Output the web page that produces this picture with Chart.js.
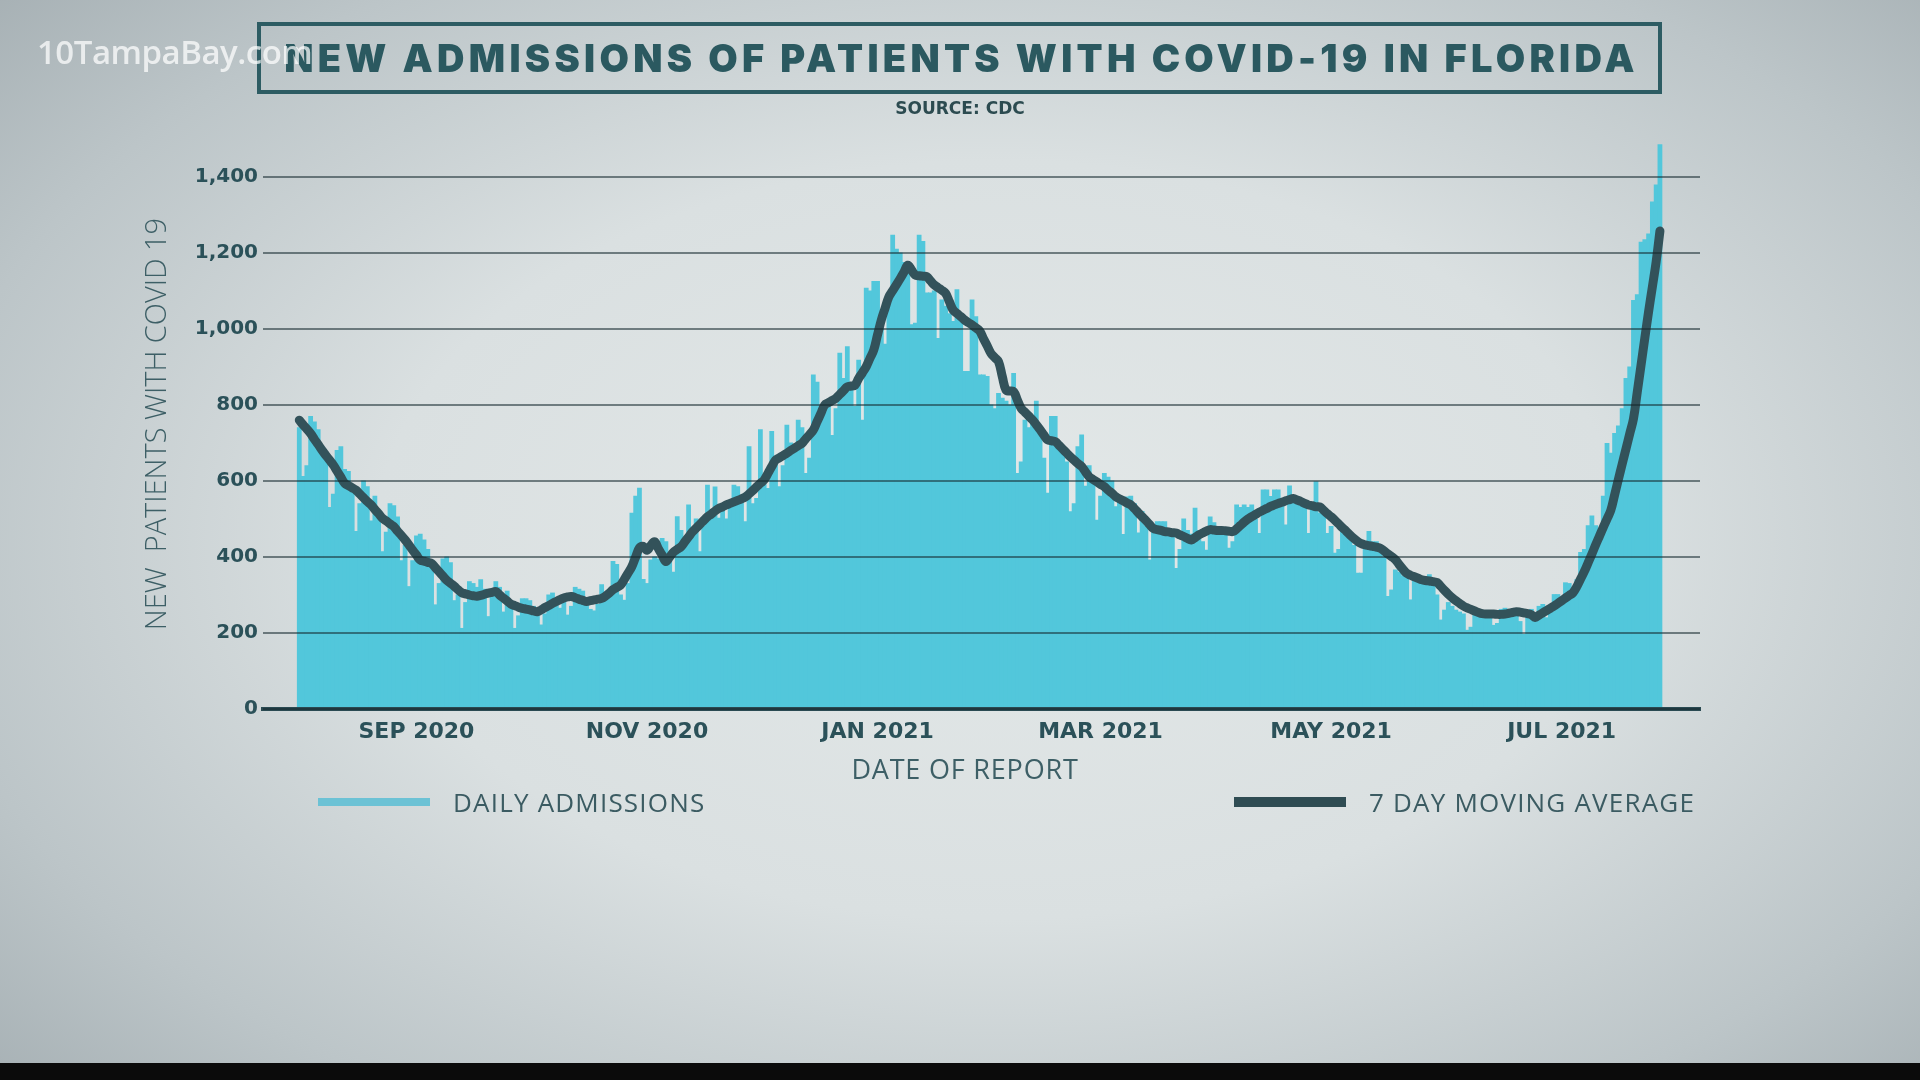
<!DOCTYPE html>
<html>
<head>
<meta charset="utf-8">
<title>New admissions of patients with COVID-19 in Florida</title>
<script src="https://cdn.jsdelivr.net/npm/chart.js@4.4.1/dist/chart.umd.min.js"></script>
<style>
  html, body { margin: 0; padding: 0; }
  body {
    width: 1920px; height: 1080px; overflow: hidden; position: relative;
    font-family: 'Open Sans', sans-serif;
    background: radial-gradient(ellipse 72% 78% at 52% 50%, #e3e8e8 0%, #dae0e1 45%, #bcc5c8 78%, #a4aeb2 100%);
  }
  #chartWrap { position: absolute; left: 0; top: 0; width: 1920px; height: 1080px; }
  .title-box {
    position: absolute; left: 257px; top: 22px; width: 1397px; height: 64px;
    border: 4px solid #2d5c63;
    display: flex; align-items: center; justify-content: center;
  }
  .title-box span {
    font-family: Inter, sans-serif; font-weight: 900; font-size: 38px;
    letter-spacing: 4.3px; color: #2b5960; white-space: nowrap; margin-right: -4px;
  }
  .watermark {
    position: absolute; left: 37px; top: 29px;
    font-family: 'Open Sans', sans-serif; font-weight: 600; font-size: 33px;
    color: rgba(255,255,255,0.72); white-space: nowrap; letter-spacing: -0.5px;
  }
  .source {
    position: absolute; left: 0; width: 1920px; top: 98px; text-align: center;
    font-family: 'DejaVu Sans', sans-serif; font-weight: bold; font-size: 17px;
    color: #2c4b50;
  }
  .axis-title {
    position: absolute; left: 765px; width: 400px; top: 750px; text-align: center;
    font-family: 'Open Sans', sans-serif; font-weight: 400; font-size: 27px;
    letter-spacing: 0.8px; color: #3d5f66; white-space: nowrap;
  }
  .legend-item { position: absolute; top: 784px; height: 36px; display: flex; align-items: center; }
  .legend-item .swatch { width: 112px; margin-right: 23px; }
  .legend-item .label {
    font-family: 'Open Sans', sans-serif; font-weight: 400; font-size: 26px;
    letter-spacing: 1.2px; color: #3b5b62; white-space: nowrap;
  }
  .bottom-band { position: absolute; left: 0; top: 1063px; width: 1920px; height: 17px; background: #0b0b0b; }
</style>
</head>
<body>
<div id="chartWrap"><canvas id="admissionsChart"></canvas></div>

<div class="title-box"><span>NEW ADMISSIONS OF PATIENTS WITH COVID-19 IN FLORIDA</span></div>
<div class="watermark">10TampaBay.com</div>
<div class="source">SOURCE: CDC</div>
<div class="axis-title">DATE OF REPORT</div>

<div class="legend-item" style="left:318px;">
  <div class="swatch" style="height:8px;background:#6cc2d5;"></div>
  <div class="label">DAILY ADMISSIONS</div>
</div>
<div class="legend-item" style="left:1234px;">
  <div class="swatch" style="height:10px;background:#2f4c53;"></div>
  <div class="label">7 DAY MOVING AVERAGE</div>
</div>
<div class="bottom-band"></div>

<script>
// day index 0 = Aug 1 2020, last = Jul 27 2021
const monthTickDays = [31, 92, 153, 212, 273, 334];
const monthTickLabels = ["SEP 2020", "NOV 2020", "JAN 2021", "MAR 2021", "MAY 2021", "JUL 2021"];
const yTickValues = [0, 200, 400, 600, 800, 1000, 1200, 1400];

// daily admissions, one row per week (Sat..Fri)
const dailyAdmissions = [
  740, 612, 640, 770, 755, 735, 690,
  660, 530, 565, 680, 690, 630, 625,
  580, 467, 540, 600, 585, 495, 560,
  505, 414, 465, 540, 535, 505, 390,
  430, 322, 390, 455, 460, 445, 420,
  380, 274, 330, 395, 400, 385, 285,
  300, 212, 280, 335, 330, 320, 340,
  315, 243, 295, 335, 320, 255, 310,
  275, 212, 245, 290, 290, 285, 270,
  260, 221, 250, 300, 305, 290, 265,
  290, 247, 270, 320, 315, 310, 290,
  262, 258, 275, 327, 305, 300, 388,
  380, 300, 286, 330, 515, 560, 581,
  341, 330, 392, 400, 395, 449, 440,
  400, 360, 506, 470, 430, 537, 475,
  500, 414, 480, 589, 520, 584, 502,
  540, 500, 530, 589, 585, 560, 493,
  690, 540, 554, 735, 590, 580, 730,
  660, 585, 640, 747, 700, 690, 760,
  740, 620, 660, 879, 860, 774, 780,
  800, 720, 790, 936, 870, 953, 840,
  796, 918, 760, 1107, 1100, 1125, 1125,
  1000, 960, 1080, 1247, 1210, 1200, 1175,
  1150, 1011, 1015, 1247, 1230, 1095, 1095,
  1100, 975, 1076, 1060, 1040, 1020, 1103,
  1040, 888, 888, 1076, 1032, 879, 879,
  875, 800, 790, 830, 818, 810, 800,
  883, 620, 650, 760, 740, 770, 810,
  720, 660, 568, 770, 770, 700, 690,
  650, 519, 540, 690, 721, 586, 640,
  600, 497, 560, 620, 610, 600, 532,
  560, 459, 558, 560, 540, 463, 520,
  480, 392, 470, 493, 493, 493, 470,
  460, 370, 420, 500, 470, 460, 528,
  470, 440, 418, 505, 490, 480, 475,
  470, 423, 440, 537, 530, 537, 530,
  537, 500, 462, 576, 576, 559, 576,
  576, 540, 484, 587, 560, 555, 545,
  540, 462, 540, 598, 515, 520, 462,
  480, 410, 420, 480, 453, 450, 430,
  357, 357, 430, 467, 440, 440, 410,
  400, 296, 313, 366, 360, 350, 349,
  287, 340, 350, 345, 330, 353, 340,
  300, 234, 260, 280, 270, 260, 255,
  250, 207, 215, 265, 262, 255, 250,
  255, 220, 225, 262, 265, 260, 255,
  258, 230, 196, 255, 262, 248, 270,
  275, 240, 262, 301, 301, 290, 332,
  330, 300, 340, 412, 420, 482, 508,
  482, 470, 560, 699, 673, 725, 745,
  790, 870, 900, 1075, 1090, 1228, 1235,
  1250, 1334, 1379, 1485
];

// 7 day moving average, same days
const movingAverage = [
  760, 748, 737, 725, 710, 696, 681,
  668, 655, 642, 626, 610, 594, 588,
  582, 576, 566, 556, 546, 537, 525,
  514, 502, 495, 487, 480, 468, 457,
  445, 432, 418, 405, 392, 389, 386,
  383, 372, 361, 350, 339, 331, 323,
  314, 306, 303, 300, 298, 297, 299,
  302, 305, 307, 309, 300, 292, 284,
  276, 272, 268, 265, 263, 261, 258,
  256, 261, 267, 272, 278, 283, 288,
  292, 295, 296, 293, 289, 286, 283,
  285, 287, 289, 291, 297, 305, 314,
  320, 326, 341, 358, 375, 400, 424,
  428, 418, 430, 440, 422, 405, 388,
  400, 413, 420, 427, 440, 453, 466,
  476, 486, 496, 506, 513, 521, 528,
  532, 537, 541, 545, 549, 553, 558,
  566, 575, 585, 594, 603, 620, 638,
  655, 661, 667, 673, 680, 686, 693,
  699, 711, 722, 734, 756, 778, 800,
  806, 812, 818, 828, 838, 848, 850,
  852, 870, 885, 901, 923, 945, 985,
  1024, 1055, 1085, 1101, 1117, 1133, 1150,
  1168, 1155, 1142, 1140, 1139, 1138, 1127,
  1116, 1109, 1102, 1094, 1072, 1050, 1041,
  1033, 1024, 1017, 1011, 1003, 995, 975,
  956, 936, 925, 914, 875, 839, 837,
  835, 813, 791, 781, 771, 761, 748,
  735, 721, 708, 706, 704, 694, 684,
  674, 664, 655, 646, 638, 624, 611,
  604, 598, 591, 585, 576, 568, 559,
  553, 548, 542, 537, 527, 516, 506,
  496, 485, 475, 472, 470, 467, 466,
  464, 463, 458, 454, 449, 445, 451,
  458, 463, 468, 472, 471, 470, 470,
  469, 468, 467, 474, 483, 492, 500,
  506, 512, 518, 523, 528, 533, 537,
  541, 544, 548, 551, 554, 550, 546,
  541, 537, 535, 532, 532, 523, 514,
  506, 497, 487, 477, 468, 458, 449,
  441, 435, 432, 430, 428, 426, 423,
  416, 408, 401, 393, 380, 368, 357,
  352, 348, 344, 340, 338, 337, 335,
  333, 323, 312, 302, 293, 285, 278,
  271, 266, 262, 258, 254, 251, 250,
  250, 250, 249, 249, 250, 252, 254,
  256, 255, 253, 251, 248, 241, 247,
  253, 259, 265, 271, 278, 285, 292,
  299, 306, 322, 342, 362, 385, 408,
  432, 455, 478, 500, 523, 563, 604,
  644, 684, 724, 764, 834, 905, 976,
  1046, 1111, 1177, 1258
];

const barPoints = dailyAdmissions.map((v, i) => ({ x: i, y: v }));
const avgPoints = movingAverage.map((v, i) => ({ x: i, y: v }));

const ctx = document.getElementById("admissionsChart").getContext("2d");

new Chart(ctx, {
  type: "bar",
  data: {
    datasets: [
      {
        type: "line",
        label: "7 DAY MOVING AVERAGE",
        data: avgPoints,
        borderColor: "#33525a",
        borderWidth: 9,
        pointRadius: 0,
        tension: 0.4,
        borderCapStyle: "round",
        borderJoinStyle: "round",
        order: 0,
      },
      {
        label: "DAILY ADMISSIONS",
        data: barPoints,
        backgroundColor: "#52c7db",
        borderWidth: 0,
        barPercentage: 1,
        categoryPercentage: 1,
        inflateAmount: 0.5,
        order: 1,
      },
    ],
  },
  options: {
    responsive: true,
    maintainAspectRatio: false,
    animation: false,
    layout: { padding: { left: 140, right: 220, top: 139, bottom: 296 } },
    plugins: {
      legend: { display: false },
      tooltip: { enabled: false },
    },
    scales: {
      x: {
        type: "linear",
        offset: false,
        min: -9.6,
        max: 370.6,
        afterBuildTicks: (scale) => {
          scale.ticks = monthTickDays.map((d) => ({ value: d }));
        },
        afterFit: (scale) => { scale.height = 75; },
        ticks: {
          autoSkip: false,
          maxRotation: 0,
          padding: 10,
          color: "#2b5159",
          font: { family: "'DejaVu Sans', sans-serif", size: 22, weight: "bold" },
          callback: (value) => {
            const i = monthTickDays.indexOf(value);
            return i >= 0 ? monthTickLabels[i] : "";
          },
        },
        grid: { display: true, drawOnChartArea: false, drawTicks: false },
        border: { display: true, color: "#2a4a52", width: 4, z: 1 },
      },
      y: {
        min: 0,
        max: 1500,
        afterBuildTicks: (scale) => {
          scale.ticks = yTickValues.map((v) => ({ value: v }));
        },
        afterFit: (scale) => { scale.width = 123; },
        ticks: {
          padding: 5,
          color: "#2b5159",
          font: { family: "'DejaVu Sans', sans-serif", size: 20, weight: "bold" },
          callback: (value) => value.toLocaleString("en-US"),
        },
        grid: { color: "rgba(20,40,45,0.55)", lineWidth: 2, drawTicks: false, z: 1 },
        border: { display: false },
        title: {
          display: true,
          text: "NEW  PATIENTS WITH COVID 19",
          color: "#3d5f66",
          font: { family: "'Open Sans', sans-serif", size: 29, weight: 300 },
          padding: 0,
        },
      },
    },
  },
});
</script>
</body>
</html>
